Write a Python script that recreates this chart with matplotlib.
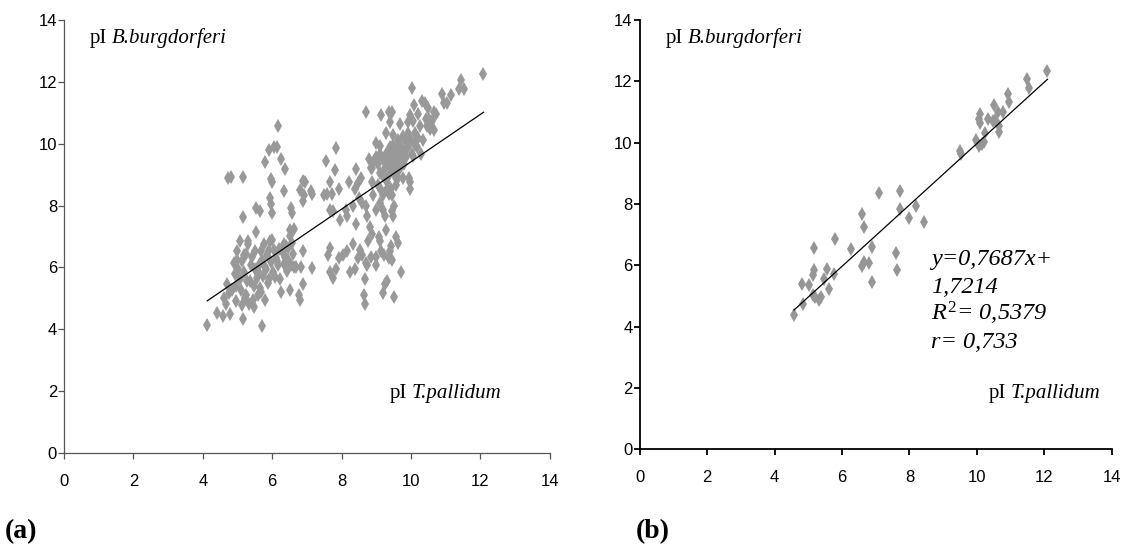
import matplotlib
matplotlib.use("Agg")
import matplotlib.pyplot as plt

plt.rcParams['mathtext.fontset'] = 'custom'
plt.rcParams['mathtext.rm'] = 'Liberation Serif'
plt.rcParams['mathtext.it'] = 'Liberation Serif:italic'
plt.rcParams['mathtext.bf'] = 'Liberation Serif:bold'

# ---------------- data (a) ----------------
left_x = [4.13, 4.41, 4.58, 4.68, 4.79, 4.77, 4.89, 4.97, 5.06, 5.10, 5.16, 5.14, 5.18, 5.20, 5.26, 5.28,
          5.31, 5.33, 5.39, 5.44, 5.47, 5.49, 5.51, 5.55, 5.59, 5.62, 5.67, 5.71, 5.74, 5.77, 5.80, 5.82,
          5.86, 5.90, 5.95, 5.98, 6.02, 6.06, 6.11, 6.16, 6.23, 6.26, 6.29, 6.33, 6.38, 6.42, 6.47, 6.50,
          6.54, 6.57, 6.62, 6.69, 6.78, 6.81, 6.83, 6.88, 6.90, 7.14, 4.99, 5.06, 5.31, 4.92, 4.85, 5.54,
          4.62, 4.70, 4.95, 5.02, 5.12, 5.22, 5.36, 5.42, 5.58, 5.65, 5.70, 5.88, 5.92, 6.00, 6.08, 6.20,
          6.40, 6.45, 6.60, 5.00, 5.25, 5.50, 5.78, 6.35, 6.15, 5.68,
          4.73, 4.82, 5.16, 5.16, 5.54, 5.64, 5.78, 5.92, 6.06, 6.14, 6.18, 6.26, 6.38, 6.33, 5.97, 6.00,
          5.95, 5.98, 6.00, 6.54, 6.57, 6.52, 6.50, 6.62, 6.81, 6.88, 6.95, 6.88, 6.91, 7.12, 7.16,
          7.55, 7.50, 7.57, 7.66, 7.71, 7.81, 7.84, 7.94, 7.68, 7.76, 7.96, 8.12, 8.17, 8.22, 8.33, 8.38,
          8.43, 8.48, 8.51, 8.56, 8.60, 8.43, 7.66, 7.61, 7.66, 7.74, 7.83, 7.94, 8.04, 8.15, 8.25, 8.33,
          8.38, 8.48, 8.53, 8.58, 8.64, 8.67, 8.67, 8.69, 8.74, 8.77, 8.81, 8.74, 8.69, 8.71, 8.89, 8.84,
          8.98, 9.00, 9.08, 9.10, 9.15, 9.18, 9.22, 9.25, 9.29, 9.31, 9.36, 9.39, 9.43, 9.46, 9.51, 9.56,
          9.64, 9.72, 9.00, 9.10, 9.15, 8.92, 8.87, 9.05, 9.20, 9.25, 9.46, 9.49, 9.51,
          8.89, 8.94, 9.00, 9.05, 9.10, 9.12, 9.18, 9.20, 9.25, 9.29, 9.31, 9.33, 9.36, 9.39, 9.41, 9.43,
          9.46, 9.49, 9.51, 9.53, 9.56, 9.59, 9.62, 9.64, 9.67, 9.70, 9.72, 9.74, 9.77, 9.80, 9.82, 9.84,
          9.87, 9.90, 9.92, 9.94, 9.98, 9.98, 10.01, 10.03, 10.05, 10.08, 10.03, 10.11, 10.13, 10.18, 10.21,
          9.67, 9.41, 9.46, 9.36, 9.15, 9.10, 9.29, 9.49, 8.98, 8.79, 8.84, 9.46, 9.62, 9.77, 9.56, 9.31,
          9.36, 9.20, 9.52, 9.58, 9.66, 9.44, 9.34, 9.70, 9.60, 9.48, 9.38, 9.27, 9.55, 9.63,
          10.25, 10.29, 10.34, 10.32, 10.39, 10.44, 10.46, 10.49, 10.53, 10.54, 10.60, 10.65, 10.67, 10.73,
          10.90, 10.95, 11.04, 11.14, 11.37, 11.45, 11.52, 12.09, 9.92, 9.98, 10.05, 10.21]
left_y = [4.15, 4.51, 4.43, 4.83, 4.49, 5.17, 6.13, 4.92, 5.62, 5.28, 4.32, 4.77, 5.84, 6.41, 5.11, 5.56,
          6.75, 4.83, 6.07, 4.94, 5.39, 4.72, 6.52, 5.67, 5.11, 6.07, 6.52, 4.10, 5.73, 6.75, 4.94, 5.96,
          6.41, 5.62, 6.86, 6.18, 5.84, 6.58, 6.30, 6.07, 5.62, 5.22, 6.52, 6.75, 6.35, 5.90, 6.63, 5.28,
          6.07, 6.80, 6.00, 6.00, 5.11, 4.94, 6.00, 5.45, 6.54, 5.98, 6.52, 6.86, 6.86, 5.79, 5.28, 7.14,
          5.00, 5.45, 5.40, 5.95, 6.20, 5.00, 5.55, 6.35, 5.90, 5.35, 6.25, 5.50, 6.55, 6.90, 5.70, 6.60,
          6.70, 6.25, 6.45, 6.25, 6.45, 5.95, 6.00, 6.10, 6.20, 5.20,
          8.89, 8.92, 8.91, 7.63, 7.93, 7.84, 9.40, 9.79, 9.91, 9.91, 10.58, 9.52, 9.19, 8.46, 8.87, 8.78,
          8.26, 8.04, 7.76, 7.93, 7.76, 7.20, 7.03, 7.25, 8.51, 8.80, 8.75, 8.16, 8.33, 8.46, 8.38,
          9.45, 8.33, 8.38, 8.78, 8.38, 9.15, 9.85, 8.55, 7.87, 7.84, 7.54, 7.87, 7.65, 8.78, 7.99, 8.55,
          9.17, 8.72, 8.24, 8.89, 8.10, 7.42, 6.63, 6.41, 5.84, 5.67, 5.96, 6.32, 6.41, 6.52, 5.84, 6.75,
          5.96, 6.30, 6.58, 6.41, 5.11, 4.83, 5.62, 6.13, 6.07, 6.86, 7.31, 7.65, 7.99, 11.03, 7.08, 6.35,
          6.07, 6.35, 6.97, 6.86, 6.52, 5.17, 6.41, 5.48, 7.20, 5.56, 6.30, 6.52, 6.69, 6.24, 5.05, 6.97,
          6.80, 5.84, 7.87, 8.10, 8.50, 8.33, 8.78, 8.66, 7.87, 7.65, 7.82, 7.65, 7.99,
          9.23, 9.45, 9.57, 9.34, 9.68, 9.06, 9.51, 8.95, 9.23, 9.68, 8.78, 9.45, 9.00, 9.91, 9.29, 8.55,
          9.57, 9.12, 9.79, 9.34, 8.89, 9.62, 9.45, 10.13, 9.23, 9.68, 9.91, 9.51, 10.24, 9.34, 9.79, 10.13,
          9.57, 10.35, 9.91, 8.89, 8.78, 8.55, 10.13, 9.68, 10.75, 11.26, 11.82, 9.96, 10.35, 9.90, 10.98,
          10.64, 10.69, 11.03, 11.03, 10.92, 9.93, 10.36, 10.30, 10.02, 9.51, 9.23, 8.33, 8.89, 8.89, 8.66, 8.55,
          8.38, 8.33, 9.70, 9.40, 9.85, 9.20, 9.60, 9.55, 9.05, 9.95, 9.75, 9.40, 9.30, 9.85,
          10.58, 9.68, 10.13, 11.37, 11.32, 10.81, 10.58, 11.15, 10.81, 10.47, 10.75, 10.44, 11.03, 10.98,
          11.60, 11.32, 11.32, 11.57, 11.77, 12.05, 11.77, 12.27, 10.69, 10.92, 9.62, 10.19]
left_fit_x = [4.13, 12.09]
left_fit_y = [4.92, 11.02]

# ---------------- data (b) ----------------
right_x = [4.58, 4.81, 4.84, 5.03, 5.14, 5.18, 5.18, 5.14, 5.19, 5.31, 5.37, 5.48, 5.56, 5.63, 5.77,
           5.80, 6.27, 6.59, 6.64, 6.59, 6.65, 6.80, 6.88, 6.90, 7.11, 7.60, 7.63, 7.73, 7.71, 7.98,
           8.19, 8.43, 9.49, 9.53, 9.96, 10.05, 10.09, 10.07, 10.10, 10.15, 10.21, 10.24, 10.34, 10.47,
           10.52, 10.53, 10.63, 10.65, 10.66, 10.76, 10.91, 10.94, 11.48, 11.53, 12.08]
right_y = [4.39, 5.39, 4.75, 5.34, 5.67, 5.84, 6.56, 5.02, 4.96, 4.88, 4.96, 5.56, 5.87, 5.22, 5.73,
           6.86, 6.54, 7.68, 7.26, 5.98, 6.11, 6.06, 5.45, 6.60, 8.36, 6.39, 5.84, 8.41, 7.83, 7.53,
           7.93, 7.40, 9.73, 9.64, 10.08, 9.90, 10.93, 10.76, 10.63, 9.96, 10.01, 10.32, 10.79, 10.72,
           11.22, 10.75, 11.00, 10.36, 10.53, 10.99, 11.59, 11.32, 12.07, 11.77, 12.34]
right_fit_x = [4.58, 12.09]
right_fit_y = [4.54, 12.07]

ticks = [0, 2, 4, 6, 8, 10, 12, 14]
eq_lines = ['y=0,7687x+', '1,7214', r'$\mathit{R}^{2}$= 0,5379', 'r= 0,733']

fig = plt.figure(figsize=(11.22, 5.45), dpi=100)
ax1 = fig.add_axes([0.057, 0.169, 0.433, 0.794])
ax2 = fig.add_axes([0.570, 0.176, 0.421, 0.787])

serif = 'Liberation Serif'

def style(ax, spine_color, lw, font, size):
    ax.set_xlim(0, 14)
    ax.set_ylim(0, 14)
    ax.set_xticks(ticks)
    ax.set_yticks(ticks)
    for s in ['top', 'right']:
        ax.spines[s].set_visible(False)
    for s in ['left', 'bottom']:
        ax.spines[s].set_color(spine_color)
        ax.spines[s].set_linewidth(lw)
    ax.tick_params(direction='out', length=4, width=lw, color=spine_color)
    for lab in ax.get_xticklabels() + ax.get_yticklabels():
        lab.set_fontfamily(font)
        lab.set_fontsize(size)
        lab.set_color('black')
    ax.tick_params(axis='y', pad=1)
    ax.tick_params(axis='x', pad=11)

style(ax1, '#555555', 0.9, 'Liberation Sans', 12)
style(ax2, 'black', 1.3, 'Liberation Sans', 12)

ax1.plot(left_x, left_y, linestyle='none', marker='d', markersize=7,
         color='#999999', markeredgewidth=0)
ax1.plot(left_fit_x, left_fit_y, color='black', linewidth=0.9)
ax2.plot(right_x, right_y, linestyle='none', marker='d', markersize=7,
         color='#969696', markeredgewidth=0)
ax2.plot(right_fit_x, right_fit_y, color='black', linewidth=0.9)


def label(ax, x, y, species):
    t = ax.text(x, y, 'pI', fontfamily=serif, fontsize=15, va='baseline')
    ax.annotate(species, xy=(1, 0), xycoords=t, xytext=(3.5, 0), textcoords='offset points',
                fontfamily=serif, fontstyle='italic', fontsize=15, va='bottom', ha='left')


label(ax1, 0.75, 13.26, 'B.burgdorferi')
label(ax1, 9.39, 1.78, 'T.pallidum')
label(ax2, 0.77, 13.25, 'B.burgdorferi')
label(ax2, 10.35, 1.66, 'T.pallidum')

for i, line in enumerate(eq_lines):
    ax2.text(8.63, 6.0 - i * 0.9, line, fontfamily=serif, fontstyle='italic', fontsize=17.5)

fig.text(5 / 1122, 1 - 538 / 545, '(a)', fontfamily=serif, fontweight='bold', fontsize=20)
fig.text(636 / 1122, 1 - 538 / 545, '(b)', fontfamily=serif, fontweight='bold', fontsize=20)

fig.savefig('out.png', dpi=100)
